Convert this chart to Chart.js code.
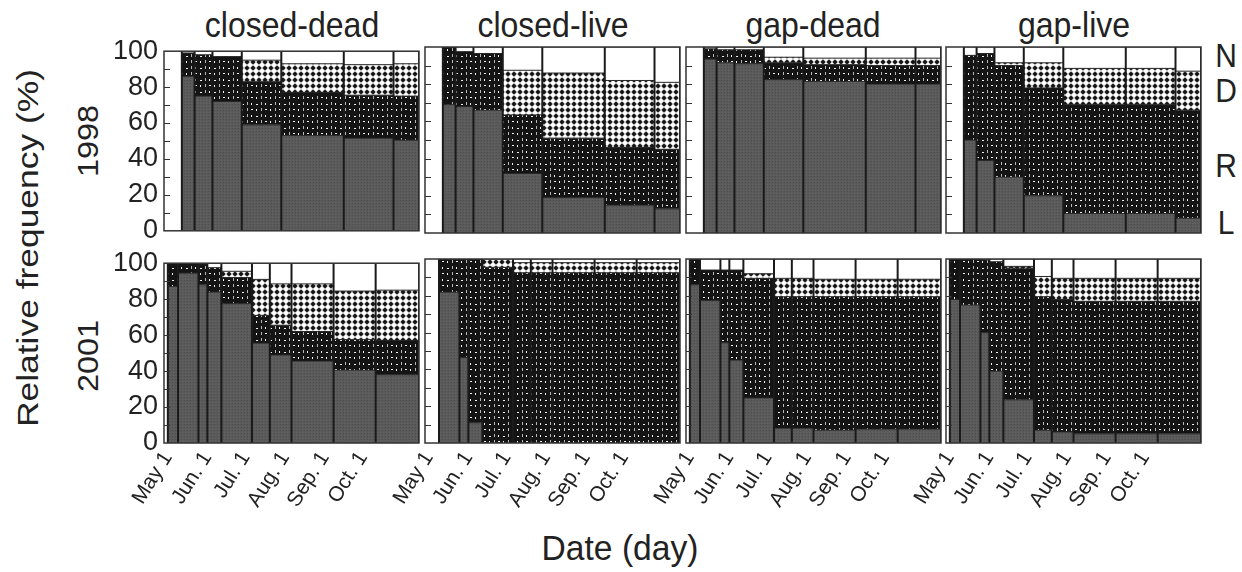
<!DOCTYPE html>
<html>
<head>
<meta charset="utf-8">
<script src="https://cdn.jsdelivr.net/npm/chart.js@4.4.1/dist/chart.umd.min.js"></script>
<style>
  body { margin: 0; background: #fff; width: 1242px; height: 572px; position: relative; overflow: hidden;
         font-family: "Liberation Sans", Arial, sans-serif; color: #222; }
  canvas { position: absolute; }
  .lbl { position: absolute; white-space: nowrap; line-height: 1; }
  .title { font-size: 32px; transform: translate(-50%, -50%) scale(1, 1.1); top: 25px; }
  .side { font-size: 30px; left: 1226px; transform: translate(-50%, -50%) scale(1, 1.1); }
  .year { font-size: 30px; left: 88px; transform: translate(-50%, -50%) rotate(-90deg) scale(1.08, 1); }
</style>
</head>
<body>
<div class="lbl title" style="left:292px">closed-dead</div>
<div class="lbl title" style="left:553px">closed-live</div>
<div class="lbl title" style="left:813px">gap-dead</div>
<div class="lbl title" style="left:1074px">gap-live</div>
<div class="lbl side" style="top:56px">N</div>
<div class="lbl side" style="top:91px">D</div>
<div class="lbl side" style="top:166px">R</div>
<div class="lbl side" style="top:223px">L</div>
<div class="lbl year" style="top:141px">1998</div>
<div class="lbl year" style="top:356px">2001</div>
<div class="lbl" style="left:28px;top:248px;font-size:30px;transform:translate(-50%,-50%) rotate(-90deg) scale(1.18,1)">Relative frequency (%)</div>
<div class="lbl" style="left:620px;top:548px;font-size:32px;transform:translate(-50%,-50%) scale(1.05,1.1)">Date (day)</div>

<script>
// Sampling dates, days after May 1
var edges98 = [11, 21, 35, 58, 89, 138, 177, 197];
var edges01 = [0, 8, 24, 31, 42, 66, 80, 97, 130, 163, 197];

// x ticks (only labelled in the bottom row)
var tickDays = [0, 31, 61, 92, 123, 153];
var tickLabels = ['May 1', 'Jun. 1', 'Jul. 1', 'Aug. 1', 'Sep. 1', 'Oct. 1'];

// 1998, percent per interval: L, R, D, N
var L_cd98 = [86, 75, 72, 59, 53, 51.5, 50.5];
var R_cd98 = [13, 23, 25, 24, 24, 24, 24.5];
var D_cd98 = [0, 0, 0, 12, 16, 17, 18];
var N_cd98 = [1, 2, 3, 5, 7, 7.5, 7];

var L_cl98 = [69, 68, 66, 32, 19, 15, 13];
var R_cl98 = [31, 29.5, 30.5, 31.5, 32, 31, 32];
var D_cl98 = [0, 0, 0, 24, 35, 36, 36];
var N_cl98 = [0, 2.5, 3.5, 12.5, 14, 18, 19];

var L_gd98 = [93.5, 91.5, 91, 82.5, 81.5, 80, 80];
var R_gd98 = [5.5, 7, 7.5, 9, 9, 10, 10];
var D_gd98 = [0, 0, 0, 3, 3.5, 4, 4];
var N_gd98 = [1, 1.5, 1.5, 5.5, 6, 6, 6];

var L_gl98 = [50, 39, 30, 20, 10.5, 10.5, 8];
var R_gl98 = [45.5, 57.5, 60, 58, 58.5, 58.5, 58];
var D_gl98 = [0, 0, 1.5, 13.5, 19.5, 19.5, 21];
var N_gl98 = [4.5, 3.5, 8.5, 8.5, 11.5, 11.5, 13];

// 2001
var L_cd01 = [87, 94.5, 88, 84, 77.5, 55.5, 49, 45.5, 40.5, 38];
var R_cd01 = [13, 5.5, 11.5, 13.5, 14.5, 15.5, 16.5, 16.5, 17, 19];
var D_cd01 = [0, 0, 0, 0, 3.5, 20, 23, 26.5, 27, 28];
var N_cd01 = [0, 0, 0.5, 2.5, 4.5, 9, 11.5, 11.5, 15.5, 15];

var L_cl01 = [null, 82, 46.5, 11, 0, 0, 0, 0, 0, 0];
var R_cl01 = [null, 18, 53.5, 89, 95.5, 92.5, 92.5, 92.5, 92.5, 92.5];
var D_cl01 = [null, 0, 0, 0, 4.5, 5.5, 5.5, 5.5, 5.5, 5.5];
var N_cl01 = [null, 0, 0, 0, 0, 2, 2, 2, 2, 2];

var L_gd01 = [86, 77.5, 54.5, 45, 24.5, 8, 8, 7, 7.5, 7.5];
var R_gd01 = [14, 16.5, 39.5, 49, 65, 71.5, 71.5, 72.5, 72, 72];
var D_gd01 = [0, 0, 0, 0, 2.5, 10, 10, 9.5, 9.5, 9.5];
var N_gd01 = [0, 6, 6, 6, 8, 10.5, 10.5, 11, 11, 11];

var L_gl01 = [78, 75, 60, 39, 23.5, 7, 6, 5, 5, 5];
var R_gl01 = [22, 25, 39.5, 59.5, 71.5, 72.5, 72, 72, 72, 72];
var D_gl01 = [0, 0, 0, 0, 1, 11, 11.5, 12.5, 12.5, 12.5];
var N_gl01 = [0, 0, 0.5, 1.5, 4, 9.5, 10.5, 10.5, 10.5, 10.5];

// Layout of the panel frames
var colLeft = [164, 425, 686, 946];
var rowTop = [47, 259];
var frameH = [186, 184];
var frameW = 255;

var panels = [
  { col: 0, row: 0, edges: edges98, L: L_cd98, R: R_cd98, D: D_cd98, N: N_cd98 },
  { col: 1, row: 0, edges: edges98, L: L_cl98, R: R_cl98, D: D_cl98, N: N_cl98 },
  { col: 2, row: 0, edges: edges98, L: L_gd98, R: R_gd98, D: D_gd98, N: N_gd98 },
  { col: 3, row: 0, edges: edges98, L: L_gl98, R: R_gl98, D: D_gl98, N: N_gl98 },
  { col: 0, row: 1, edges: edges01, L: L_cd01, R: R_cd01, D: D_cd01, N: N_cd01 },
  { col: 1, row: 1, edges: edges01, L: L_cl01, R: R_cl01, D: D_cl01, N: N_cl01 },
  { col: 2, row: 1, edges: edges01, L: L_gd01, R: R_gd01, D: D_gd01, N: N_gd01 },
  { col: 3, row: 1, edges: edges01, L: L_gl01, R: R_gl01, D: D_gl01, N: N_gl01 },
];

// Hatch patterns
var makePattern = function (w, h, draw) {
  var c = document.createElement('canvas');
  c.width = w; c.height = h;
  var g = c.getContext('2d');
  draw(g);
  return g.createPattern(c, 'repeat');
};

var fills = {
  L: makePattern(3, 3, function (g) {
    g.fillStyle = '#5a5a5a'; g.fillRect(0, 0, 3, 3);
    g.fillStyle = '#4e4e4e'; g.fillRect(0, 0, 1, 1);
    g.fillStyle = '#646464'; g.fillRect(1, 2, 1, 1);
  }),
  R: makePattern(14, 12, function (g) {
    g.fillStyle = '#141414'; g.fillRect(0, 0, 14, 12);
    g.fillStyle = '#f0f0f0';
    g.fillRect(3, 2, 1, 2); g.fillRect(8, 3, 2, 1);
    g.fillRect(3, 8, 2, 1); g.fillRect(8, 8, 1, 2);
    g.fillStyle = '#b8b8b8';
    g.fillRect(13, 1, 1, 3); g.fillRect(13, 7, 1, 3);
  }),
  D: makePattern(6, 6, function (g) {
    g.fillStyle = '#ffffff'; g.fillRect(0, 0, 6, 6);
    g.fillStyle = '#151515';
    g.beginPath(); g.arc(3, 3, 2, 0, Math.PI * 2); g.fill();
    g.fillRect(0.5, 2.5, 5, 1); g.fillRect(2.5, 0.5, 1, 5);
  }),
  N: '#ffffff',
};

var buildDatasets = function (p) {
  var sets = [];
  // dividers first so they are drawn on top of the boxes
  p.edges.forEach(function (e, i) {
    var hasLeft = i > 0 && p.L[i - 1] != null;
    var hasRight = i < p.L.length && p.L[i] != null;
    if (hasLeft || hasRight) {
      sets.push({ data: [{ x: e, y: 0 }, { x: e, y: 100 }], borderColor: '#1a1a1a', borderWidth: 2, fill: false });
    }
  });
  for (var i = 0; i < p.L.length; i++) {
    if (p.L[i] == null) continue;
    var base = 0;
    [[p.L[i], fills.L], [p.R[i], fills.R], [p.D[i], fills.D], [p.N[i], fills.N]].forEach(function (seg) {
      if (seg[0] > 0) {
        sets.push({
          data: [{ x: p.edges[i], y: base + seg[0] }, { x: p.edges[i + 1], y: base + seg[0] }],
          fill: { value: base },
          backgroundColor: seg[1],
          borderColor: '#262626',
          borderWidth: 1,
        });
      }
      base += seg[0];
    });
  }
  return sets;
};

// Frame and inward y tick marks
var framePlugin = {
  id: 'frame',
  afterDatasetsDraw: function (chart) {
    var a = chart.chartArea, ctx = chart.ctx, y = chart.scales.y;
    ctx.save();
    ctx.strokeStyle = '#333';
    ctx.lineWidth = 1.5;
    ctx.strokeRect(a.left, a.top, a.right - a.left, a.bottom - a.top);
    ctx.lineWidth = 1.2;
    ctx.beginPath();
    for (var v = 10; v < 100; v += 10) {
      var py = Math.round(y.getPixelForValue(v)) + 0.5;
      ctx.moveTo(a.left, py);
      ctx.lineTo(a.left + 6, py);
    }
    ctx.stroke();
    ctx.restore();
  },
};

panels.forEach(function (p) {
  var bottomH = p.row === 0 ? 20 : 95;
  var W = 70 + frameW + 12, H = 18 + frameH[p.row] + bottomH;
  var cv = document.createElement('canvas');
  cv.width = W; cv.height = H;
  cv.style.width = W + 'px'; cv.style.height = H + 'px';
  cv.style.left = (colLeft[p.col] - 70) + 'px';
  cv.style.top = (rowTop[p.row] - 18) + 'px';
  document.body.appendChild(cv);

  new Chart(cv.getContext('2d'), {
    type: 'line',
    data: { datasets: buildDatasets(p) },
    options: {
      responsive: false,
      animation: false,
      events: [],
      layout: { padding: { top: 18, right: 12, left: 0, bottom: 0 } },
      elements: { point: { radius: 0 }, line: { tension: 0 } },
      plugins: { legend: { display: false }, tooltip: { enabled: false } },
      scales: {
        x: {
          type: 'linear', min: -3, max: 197,
          grid: { display: false, drawTicks: false },
          border: { display: false },
          afterBuildTicks: function (s) { s.ticks = tickDays.map(function (v) { return { value: v }; }); },
          afterFit: function (s) { s.height = bottomH; },
          ticks: {
            display: p.row === 1, autoSkip: false, minRotation: 58, maxRotation: 58, padding: 4,
            color: '#222', font: { family: 'Liberation Sans', size: 21 },
            callback: function (v, i) { return tickLabels[i]; },
          },
        },
        y: {
          min: 0, max: 100,
          grid: { display: false, drawTicks: false },
          border: { display: false },
          afterFit: function (s) { s.width = 70; },
          ticks: {
            display: p.col === 0, stepSize: 10, autoSkip: false, padding: 6,
            color: '#222', font: { family: 'Liberation Sans', size: 27 },
            callback: function (v) { return v % 20 === 0 ? v : ''; },
          },
        },
      },
    },
    plugins: [framePlugin],
  });
});
</script>
</body>
</html>
